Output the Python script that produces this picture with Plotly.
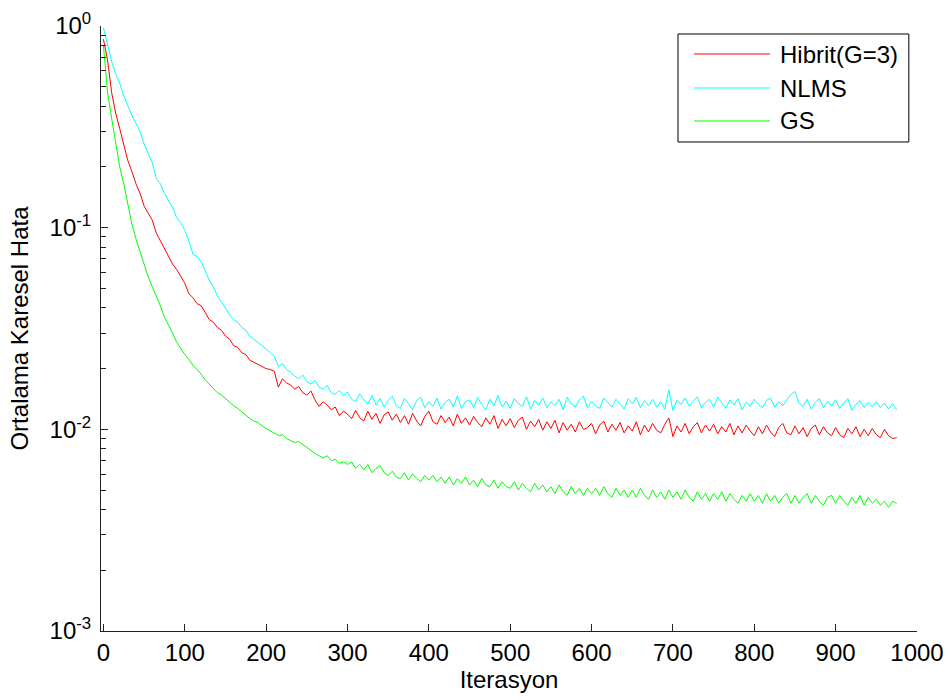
import plotly.graph_objects as go

iterations = list(range(0, 980, 5))

series_names = ["Hibrit(G=3)", "NLMS", "GS"]
series_colors = ["#ff0000", "#00ffff", "#00ff00"]

hibrit = [
    0.86, 0.68, 0.47, 0.37, 0.31, 0.26, 0.215, 0.19, 0.165, 0.148,
    0.128, 0.118, 0.109, 0.094, 0.086, 0.078, 0.072, 0.066, 0.062, 0.057,
    0.053, 0.047, 0.045, 0.042, 0.041, 0.038, 0.035, 0.034, 0.032, 0.031,
    0.029, 0.028, 0.026, 0.0255, 0.024, 0.0235, 0.022, 0.0215, 0.021, 0.0205,
    0.020, 0.0198, 0.0194, 0.0162, 0.0178, 0.0170, 0.0166, 0.0158, 0.0163, 0.0152,
    0.0148, 0.0155, 0.0140, 0.0130, 0.0137, 0.0132, 0.0125, 0.0129, 0.0117, 0.0123,
    0.0119, 0.0113, 0.0124, 0.0114, 0.0110, 0.0123, 0.0112, 0.0120, 0.0107, 0.0118,
    0.0122, 0.0111, 0.0119, 0.0108, 0.0117, 0.0106, 0.0120, 0.0110, 0.0104, 0.0116,
    0.0123, 0.0109, 0.0106, 0.0117, 0.0108, 0.0115, 0.0104, 0.0119, 0.0107, 0.0114,
    0.0105, 0.0116, 0.0108, 0.0103, 0.0114, 0.0106, 0.0117, 0.0101, 0.0112, 0.0104,
    0.0113, 0.0102, 0.0111, 0.0115, 0.0100, 0.0110, 0.0103, 0.0112, 0.0099, 0.0109,
    0.0101, 0.0111, 0.0096, 0.0108, 0.0099, 0.0106, 0.0097, 0.0109, 0.0100, 0.0102,
    0.0107, 0.0095, 0.0105, 0.0110, 0.0097, 0.0106, 0.0099, 0.0108, 0.0096, 0.0104,
    0.0098, 0.0109, 0.0094, 0.0105, 0.0097, 0.0107, 0.0099, 0.0096, 0.0106, 0.0114,
    0.0092, 0.0104, 0.0097, 0.0107, 0.0095, 0.0103, 0.0108, 0.0096, 0.0105, 0.0098,
    0.0106, 0.0095, 0.0103, 0.0097, 0.0107, 0.0094, 0.0104, 0.0096, 0.0105, 0.0098,
    0.0093, 0.0103, 0.0095, 0.0105, 0.0097, 0.0092, 0.0102, 0.0107, 0.0096, 0.0094,
    0.0104, 0.0095, 0.0102, 0.0092, 0.0101, 0.0105, 0.0094, 0.0103, 0.0096, 0.0093,
    0.0102, 0.0094, 0.0091, 0.0101, 0.0095, 0.0103, 0.0092, 0.0100, 0.0093, 0.0101,
    0.0094, 0.0091, 0.0100, 0.0093, 0.0090, 0.0091,
]

nlms = [
    0.98, 0.80, 0.67, 0.58, 0.52, 0.45, 0.40, 0.36, 0.33, 0.30,
    0.26, 0.235, 0.21, 0.175, 0.165, 0.148, 0.136, 0.126, 0.112, 0.106,
    0.097, 0.086, 0.074, 0.072, 0.068, 0.061, 0.055, 0.051, 0.046, 0.043,
    0.040, 0.037, 0.035, 0.034, 0.032, 0.031, 0.029, 0.028, 0.027, 0.026,
    0.025, 0.024, 0.023, 0.0205, 0.0212, 0.0198, 0.0192, 0.0184, 0.0178, 0.0186,
    0.0172, 0.0168, 0.0175, 0.0162, 0.0158, 0.0165, 0.0152, 0.0149, 0.0156, 0.0147,
    0.0153, 0.0141, 0.0137, 0.0150, 0.0140, 0.0134, 0.0147, 0.0132, 0.0142, 0.0129,
    0.0139, 0.0146, 0.0131, 0.0127, 0.0142, 0.0134, 0.0125, 0.0139, 0.0144, 0.0128,
    0.0137, 0.0130, 0.0143, 0.0126, 0.0136, 0.0141, 0.0129, 0.0146, 0.0127, 0.0137,
    0.0140, 0.0128, 0.0144, 0.0133, 0.0125, 0.0141, 0.0131, 0.0147, 0.0129, 0.0138,
    0.0127, 0.0142, 0.0134, 0.0130, 0.0145, 0.0126, 0.0139, 0.0132, 0.0143, 0.0128,
    0.0137, 0.0131, 0.0141, 0.0125, 0.0144, 0.0134, 0.0129, 0.0140, 0.0146, 0.0128,
    0.0138, 0.0131, 0.0127, 0.0143, 0.0136, 0.0129, 0.0141, 0.0133, 0.0126, 0.0142,
    0.0134, 0.0144, 0.0128, 0.0139, 0.0131, 0.0141, 0.0129, 0.0137, 0.0126, 0.0157,
    0.0124, 0.0140, 0.0133, 0.0143, 0.0130, 0.0138, 0.0145, 0.0128, 0.0136, 0.0141,
    0.0129, 0.0144, 0.0135, 0.0127, 0.0140, 0.0132, 0.0142, 0.0125, 0.0136, 0.0130,
    0.0141, 0.0133, 0.0128, 0.0139, 0.0143, 0.0129, 0.0137, 0.0131, 0.0140, 0.0149,
    0.0154, 0.0135, 0.0130, 0.0141, 0.0126, 0.0136, 0.0142, 0.0128, 0.0137, 0.0131,
    0.0140, 0.0127, 0.0135, 0.0142, 0.0124, 0.0133, 0.0139, 0.0128, 0.0136, 0.0129,
    0.0137, 0.0128, 0.0135, 0.0126, 0.0134, 0.0125,
]

gs = [
    0.80, 0.47, 0.35, 0.26, 0.20, 0.165, 0.128, 0.104, 0.088, 0.076,
    0.066, 0.057, 0.051, 0.046, 0.041, 0.036, 0.033, 0.030, 0.027, 0.025,
    0.0235, 0.0222, 0.0208, 0.0198, 0.0188, 0.0176, 0.0168, 0.0160, 0.0152, 0.0148,
    0.0142, 0.0136, 0.0131, 0.0127, 0.0122, 0.0118, 0.0113, 0.0110, 0.0108, 0.0104,
    0.0101, 0.0098, 0.0096, 0.0093, 0.0094, 0.0090, 0.0088, 0.0086, 0.0087, 0.0084,
    0.0081, 0.0079, 0.0076, 0.0074, 0.0072, 0.0074, 0.0070, 0.0071, 0.0068, 0.0069,
    0.0067, 0.0069, 0.0064, 0.0067, 0.0063, 0.0067, 0.0061, 0.0064, 0.0066, 0.0061,
    0.0059, 0.0062, 0.0058, 0.0057, 0.0061, 0.0056, 0.0060, 0.0057, 0.0055, 0.0059,
    0.0056, 0.0059, 0.0055, 0.0058, 0.0054, 0.0058, 0.0053, 0.0057, 0.0054, 0.0058,
    0.0053, 0.0056, 0.0052, 0.0057, 0.0053, 0.0052, 0.0056, 0.0051, 0.0055, 0.0052,
    0.0051, 0.0055, 0.0050, 0.0054, 0.0051, 0.0049, 0.0054, 0.0050, 0.0053, 0.0049,
    0.0052, 0.0048, 0.0053, 0.0049, 0.0047, 0.0052, 0.0048, 0.0051, 0.0047, 0.0051,
    0.0048, 0.0051, 0.0047, 0.0052, 0.0048, 0.0046, 0.0051, 0.0047, 0.0050, 0.0046,
    0.0050, 0.0046, 0.0051, 0.0047, 0.0045, 0.0050, 0.0046, 0.0049, 0.0045, 0.0050,
    0.0046, 0.0049, 0.0045, 0.0050, 0.0046, 0.0044, 0.0049, 0.0045, 0.0048, 0.0044,
    0.0048, 0.0045, 0.0049, 0.0044, 0.0048, 0.0045, 0.0043, 0.0047, 0.0044, 0.0048,
    0.0044, 0.0047, 0.0043, 0.0048, 0.0044, 0.0047, 0.0043, 0.0046, 0.0048, 0.0043,
    0.0047, 0.0043, 0.0046, 0.0048, 0.0043, 0.0047, 0.0044, 0.0042, 0.0046, 0.0047,
    0.0043, 0.0047, 0.0044, 0.0042, 0.0046, 0.0043, 0.0047, 0.0042, 0.0046, 0.0043,
    0.0045, 0.0042, 0.0044, 0.0041, 0.0044, 0.0043,
]

x_tick_vals = list(range(0, 1001, 100))
y_tick_vals = [1e-3, 1e-2, 1e-1, 1e0]
y_tick_text = ["10<sup>-3</sup>", "10<sup>-2</sup>", "10<sup>-1</sup>", "10<sup>0</sup>"]
y_minor_vals = [m * 10.0 ** e for e in (-3, -2, -1) for m in range(2, 10)]

x_title = "Iterasyon"
y_title = "Ortalama Karesel Hata"

FONT = "Liberation Sans, Arial, Helvetica, sans-serif"
FS = 24

fig = go.Figure()
for name, color, vals in zip(series_names, series_colors, [hibrit, nlms, gs]):
    fig.add_trace(go.Scatter(x=iterations, y=vals, mode="lines", name=name,
                             line=dict(color=color, width=1), showlegend=False))

fig.update_layout(
    width=951, height=700,
    margin=dict(l=101, r=34, t=26, b=69),
    paper_bgcolor="white", plot_bgcolor="white",
    font=dict(family=FONT, size=FS, color="black"),
    xaxis=dict(range=[-3, 1000], tickvals=x_tick_vals, ticks="inside", ticklen=7,
               tickcolor="#222", showline=True, linecolor="#222", linewidth=1,
               showgrid=False, zeroline=False, mirror=False, automargin=False,
               tickfont=dict(size=FS),
               title=dict(text=x_title, font=dict(size=FS), standoff=2)),
    yaxis=dict(type="log", range=[-3, 0], tickvals=y_tick_vals, ticktext=y_tick_text,
               ticks="inside", ticklen=7, tickcolor="#222", showline=True,
               linecolor="#222", linewidth=1, showgrid=False, zeroline=False,
               automargin=False, tickfont=dict(size=FS), ticklabelstandoff=4,
               minor=dict(tickmode="array", tickvals=y_minor_vals, ticks="inside",
                          ticklen=5, tickcolor="#222", showgrid=False),
               title=dict(text=y_title, font=dict(size=FS), standoff=14)),
)

# Legend box drawn in paper coordinates
lx0, lx1, ly0, ly1 = 0.7071, 0.990, 0.8083, 0.9868
fig.add_shape(type="rect", xref="paper", yref="paper", x0=lx0, x1=lx1, y0=ly0, y1=ly1,
              line=dict(color="black", width=1), fillcolor="white", layer="above")
row_y = [0.9537, 0.8975, 0.8430]
for name, color, yy in zip(series_names, series_colors, row_y):
    fig.add_shape(type="line", xref="paper", yref="paper", x0=0.7267, x1=0.8199,
                  y0=yy, y1=yy, line=dict(color=color, width=1), layer="above")
    fig.add_annotation(xref="paper", yref="paper", x=0.8297, y=yy, text=name,
                       showarrow=False, xanchor="left", yanchor="middle",
                       font=dict(size=FS, color="black"))

fig.write_html("out.html", config={"displayModeBar": False},
               post_script="document.body.style.margin='0px';document.body.style.overflow='hidden';")
